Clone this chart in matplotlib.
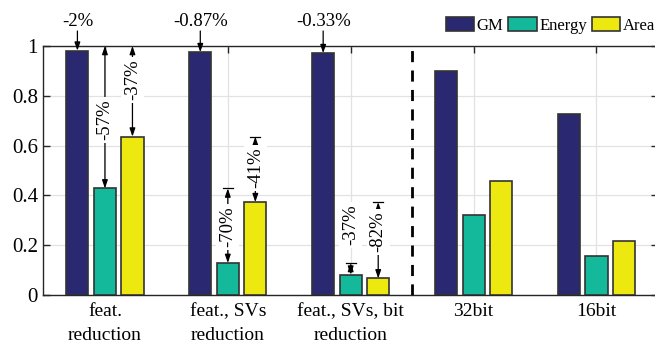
import matplotlib
matplotlib.use('Agg')
import matplotlib.pyplot as plt
import numpy as np

# data
categories = ['feat.\nreduction', 'feat., SVs\nreduction', 'feat., SVs, bit\nreduction',
              '32bit', '16bit']
gm = [0.981, 0.975, 0.971, 0.901, 0.727]
energy = [0.428, 0.129, 0.082, 0.323, 0.158]
area = [0.636, 0.373, 0.067, 0.459, 0.216]
series_names = ['GM', 'Energy', 'Area']

# GM drop labels above the first three groups
gm_drops = ['-2%', '-0.87%', '-0.33%']
# vertical reductions: (group index, series, from value, to value, label)
reductions = [
    (0, 'Energy', 1.0, energy[0], '-57%'),
    (0, 'Area', 1.0, area[0], '-37%'),
    (1, 'Energy', energy[0], energy[1], '-70%'),
    (1, 'Area', area[0], area[1], '-41%'),
    (2, 'Energy', energy[1], energy[2], '-37%'),
    (2, 'Area', area[1], area[2], '-82%'),
]
label_y = [0.703, 0.863, 0.273, 0.51, 0.281, 0.253]

colors = {'GM': '#2B2872', 'Energy': '#14B89A', 'Area': '#EEE811'}
offsets = {'GM': -0.224, 'Energy': 0.0, 'Area': 0.224}
bar_w = 0.18
edge = '#333333'

plt.rcParams['font.family'] = ['Liberation Serif', 'DejaVu Serif']
plt.rcParams['font.size'] = 14

fig = plt.figure(figsize=(6.55, 3.48), dpi=100)
ax = fig.add_axes([0.0664, 0.152, 0.938, 0.716])

x = np.arange(1, len(categories) + 1)
handles = []
for name, vals in zip(series_names, [gm, energy, area]):
    h = ax.bar(x + offsets[name], vals, bar_w, color=colors[name],
               edgecolor=edge, linewidth=1.2, zorder=3, label=name)
    handles.append(h)

ax.set_xlim(0.5, 5.5)
ax.set_ylim(0, 1)
ax.set_xticks(x)
ax.set_xticklabels(categories, linespacing=1.5, fontsize=14)
ax.set_yticks([0, 0.2, 0.4, 0.6, 0.8, 1.0])
ax.set_yticklabels(['0', '0.2', '0.4', '0.6', '0.8', '1'], fontsize=15)
ax.tick_params(direction='in', length=5, width=1, color='#262626',
               top=True, right=True, pad=4)
ax.tick_params(axis='x', pad=6)
ax.grid(True, color='#e2e2e2', linewidth=0.9, zorder=0)
ax.set_axisbelow(True)
for s in ax.spines.values():
    s.set_color('#262626')
    s.set_linewidth(1.0)

# dashed separator
ax.plot([3.5, 3.5], [0, 1], color='black', linestyle=(0, (4, 3)),
        linewidth=2, zorder=4)

# GM drop arrows
for i, lab in enumerate(gm_drops):
    xx = x[i] + offsets['GM']
    ax.annotate('', xy=(xx, gm[i]), xytext=(xx, 1.06), annotation_clip=False,
                arrowprops=dict(arrowstyle='-|>,head_length=0.35,head_width=0.12',
                                color='black', lw=0.9, shrinkA=0, shrinkB=0))
    ax.text(xx, 1.097, lab, ha='center', va='center', fontsize=13.5, clip_on=False)

# vertical reduction arrows
for (gi, name, top, bot, lab), ty in zip(reductions, label_y):
    xx = x[gi] + offsets[name]
    ax.annotate('', xy=(xx, top), xytext=(xx, bot),
                arrowprops=dict(arrowstyle='<|-|>,head_length=0.35,head_width=0.12',
                                color='black', lw=0.9, shrinkA=0, shrinkB=0),
                zorder=5)
    if top < 1.0:
        ax.plot([xx - 0.04, xx + 0.04], [top, top], color='black', lw=0.9, zorder=5)
    ax.text(xx, ty, lab, rotation=90, ha='center', va='center', fontsize=13.5,
            zorder=6, bbox=dict(facecolor='white', edgecolor='none', pad=2))

fig.legend(handles=handles, labels=series_names, loc='lower right',
           bbox_to_anchor=(1.0, 1 - 34 / 348), ncol=3, frameon=False,
           handlelength=1.7, handleheight=0.95, handletextpad=0.15,
           columnspacing=0.3, borderaxespad=0, borderpad=0, fontsize=12)

fig.savefig('out.png', dpi=100)
plt.close(fig)
